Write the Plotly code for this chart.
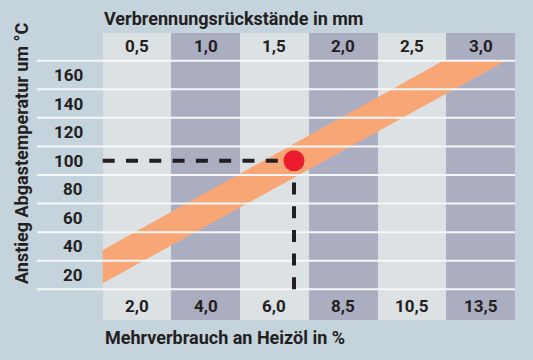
import plotly.graph_objects as go

# ---- data ----
residue_labels = ["0,5", "1,0", "1,5", "2,0", "2,5", "3,0"]        # top row (mm)
extra_oil_labels = ["2,0", "4,0", "6,0", "8,5", "10,5", "13,5"]     # bottom row (%)
temp_labels = [160, 140, 120, 100, 80, 60, 40, 20]                  # y labels (°C)
gridline_vals = [10, 30, 50, 70, 90, 110, 130, 150, 170]

# orange band (column-index units on x, °C on y)
band_upper_x = [-0.5, 4.456]
band_upper_y = [37.5, 170]
band_lower_x = [5.369, -0.5]
band_lower_y = [170, 14.2]

# example point
point_x = [2.284]
point_y = [100]

# ---- styling ----
BG = "#c5d3dd"
LIGHT = "#dce1e4"
DARK = "#abadc0"
ORANGE = "#f9a677"
RED = "#ec1c2e"
TEXT = "#231f20"
FONT = "Roboto"

X_MIN, X_MAX = -1.456, 5.5
Y_MIN, Y_MAX = -11.5, 189.4

fig = go.Figure()

# column stripes
cols = list(range(len(residue_labels)))
fig.add_trace(go.Bar(
    x=cols, y=[Y_MAX - Y_MIN] * len(cols), base=Y_MIN, width=1,
    marker=dict(color=[LIGHT if i % 2 == 0 else DARK for i in cols], line=dict(width=0)),
    hoverinfo="skip", showlegend=False))

# orange band
fig.add_trace(go.Scatter(
    x=band_upper_x + band_lower_x, y=band_upper_y + band_lower_y,
    fill="toself", fillcolor=ORANGE, mode="lines", line=dict(width=0),
    hoverinfo="skip", showlegend=False))

# white gridlines
gx, gy = [], []
for g in gridline_vals:
    gx += [X_MIN, X_MAX, None]
    gy += [g, g, None]
fig.add_trace(go.Scatter(x=gx, y=gy, mode="lines",
                         line=dict(color="#f5f7f8", width=2),
                         hoverinfo="skip", showlegend=False))

# dashed guide lines
fig.add_trace(go.Scatter(x=[-0.5, point_x[0]], y=[point_y[0], point_y[0]], mode="lines",
                         line=dict(color=TEXT, width=4, dash="12px,11.3px"),
                         hoverinfo="skip", showlegend=False))
fig.add_trace(go.Scatter(x=[point_x[0], point_x[0]], y=[gridline_vals[0], point_y[0]], mode="lines",
                         line=dict(color=TEXT, width=4, dash="12px,11.7px"),
                         hoverinfo="skip", showlegend=False))

# red point
fig.add_trace(go.Scatter(x=point_x, y=point_y, mode="markers",
                         marker=dict(color=RED, size=21, line=dict(width=0)),
                         hoverinfo="skip", showlegend=False))

ann = []
lab_font = dict(family=FONT, size=17, color=TEXT, weight="bold")
for i, t in enumerate(residue_labels):
    ann.append(dict(x=i, y=180, text=t, showarrow=False, font=lab_font,
                    xanchor="center", yanchor="middle"))
for i, t in enumerate(extra_oil_labels):
    ann.append(dict(x=i, y=-1.8, text=t, showarrow=False, font=lab_font,
                    xanchor="center", yanchor="middle"))
for v in temp_labels:
    ann.append(dict(x=-0.758, y=v, text=str(v), showarrow=False, font=lab_font,
                    xanchor="right", yanchor="middle"))

title_font = dict(family=FONT, size=18, color=TEXT, weight="bold")
ann.append(dict(xref="paper", yref="paper", x=0.136, y=1.0498,
                text="Verbrennungsrückstände in mm", showarrow=False,
                font=title_font, xanchor="left", yanchor="middle"))
ann.append(dict(xref="paper", yref="paper", x=0.1374, y=-0.0627,
                text="Mehrverbrauch an Heizöl in %", showarrow=False,
                font=title_font, xanchor="left", yanchor="middle"))
ann.append(dict(xref="paper", yref="paper", x=-0.0314, y=0.582,
                text="Anstieg Abgastemperatur um °C", showarrow=False,
                font=title_font, textangle=-90, xanchor="center", yanchor="middle"))

fig.update_layout(
    width=533, height=360,
    margin=dict(l=37, r=18, t=33, b=40),
    paper_bgcolor=BG, plot_bgcolor=BG,
    bargap=0, hovermode=False,
    annotations=ann,
    xaxis=dict(range=[X_MIN, X_MAX], visible=False, fixedrange=True),
    yaxis=dict(range=[Y_MIN, Y_MAX], visible=False, fixedrange=True),
)

fig.write_html("out.html", config={"displayModeBar": False, "staticPlot": True},
               post_script="document.body.style.margin='0';")
